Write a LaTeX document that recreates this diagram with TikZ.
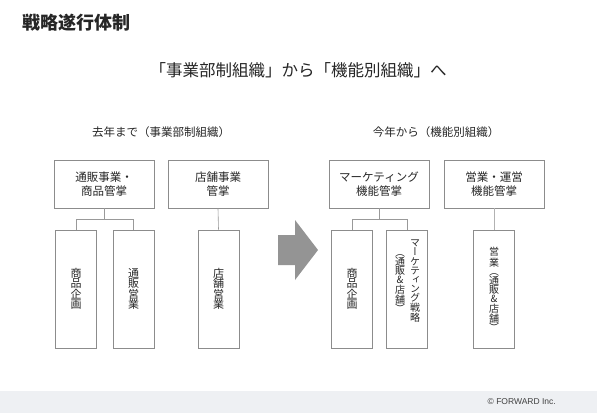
\documentclass[tikz,border=0pt]{standalone}
\usepackage{fontspec}
\setmainfont{Noto Sans CJK JP}
\newfontfamily\vjp[RawFeature=+vert]{Noto Sans CJK JP}
\newfontfamily\lsans{Liberation Sans}
\begin{document}
\begin{tikzpicture}[x=1pt,y=-1pt,
  txt/.style={text=black!85},
  pbox/.style={draw=black!45, line width=0.6pt, minimum width=100pt, minimum height=48pt, inner sep=0pt, align=center, txt, font=\fontsize{11.5}{13.5}\selectfont},
  cbox/.style={draw=black!45, line width=0.6pt, minimum width=41pt, minimum height=118pt, inner sep=0pt},
  vtxt/.style={align=center, inner sep=0pt, txt, font=\vjp\fontsize{11}{10.5}\selectfont},
  vtxts/.style={align=center, inner sep=0pt, txt, font=\vjp\fontsize{10}{9.2}\selectfont},
  conn/.style={draw=black!40, line width=0.6pt},
  head/.style={txt, font=\fontsize{11.5}{13}\selectfont, inner sep=0pt}
]
\useasboundingbox (0,0) rectangle (597,413);
\fill[white] (0,0) rectangle (597,413);
\fill[fill={rgb,255:red,238;green,240;blue,243}] (0,391) rectangle (597,413);
\node[font=\lsans\fontsize{8.5}{10}\selectfont, text=black!75, anchor=east, inner sep=0pt] (copy) at (556,402) {© FORWARD Inc.};

\node[anchor=west, inner sep=0pt, txt, font=\bfseries\fontsize{18}{21}\selectfont] (title) at (22,23) {戦略遂行体制};
\node[inner sep=0pt, txt, font=\fontsize{16.5}{20}\selectfont] (sub) at (298,70) {「事業部制組織」から「機能別組織」へ};

\node[head] (hl) at (161,132) {去年まで（事業部制組織）};
\node[head] (hr) at (436,132) {今年から（機能別組織）};

% left parents
\node[pbox] (A) at (104,184) {通販事業・\\商品管掌};
\node[pbox] (B) at (218,184) {店舗事業\\管掌};
% left children
\node[cbox] (C1) at (76,289) {};
\node[cbox] (C2) at (133.5,289) {};
\node[cbox] (C3) at (218.5,289) {};
\node[vtxt] (t1) at (C1) {商\\品\\企\\画};
\node[vtxt] (t2) at (C2) {通\\販\\営\\業};
\node[vtxt] (t3) at (C3) {店\\舗\\営\\業};

% right parents
\node[pbox] (D) at (379,184) {マーケティング\\機能管掌};
\node[pbox] (E) at (494,184) {営業・運営\\機能管掌};
% right children
\node[cbox] (C4) at (352,289) {};
\node[cbox] (C5) at (407,289) {};
\node[cbox] (C6) at (494,289) {};
\node[vtxt] (t4) at (C4) {商\\品\\企\\画};
\node[vtxts] (t5a) at (415,281) {マ\\ー\\ケ\\テ\\ィ\\ン\\グ\\戦\\略};
\node[vtxts] (t5b) at (400,283.5) {（\\通\\販\\\&\\店\\舗\\）};
\node[vtxts] (t6) at (494,289.5) {営\\業\\（\\通\\販\\\&\\店\\舗\\）};

% connectors
\draw[conn] (A.south) -- ++(0,11) coordinate (jA);
\draw[conn] (C1.north) |- (jA) -| (C2.north);
\draw[conn] (B.south) -- (C3.north);
\draw[conn] (D.south) -- ++(0,11) coordinate (jD);
\draw[conn] (C4.north) |- (jD) -| (C5.north);
\draw[conn, draw=black!30] (E.south) -- (C6.north);

% big arrow
\fill[black!42] (278,235) -- (295,235) -- (295,220) -- (318,250) -- (295,280) -- (295,265) -- (278,265) -- cycle;
\end{tikzpicture}
\end{document}
